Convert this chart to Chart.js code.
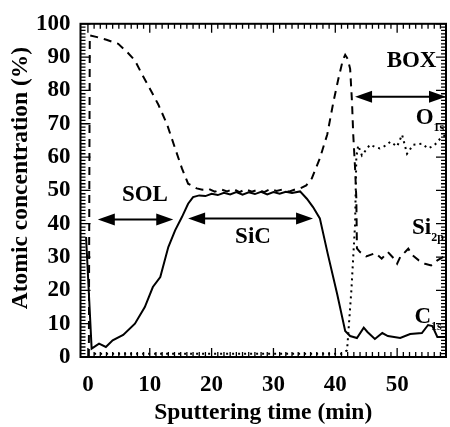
<!DOCTYPE html>
<html>
<head>
<meta charset="utf-8">
<script src="https://cdn.jsdelivr.net/npm/chart.js@4/dist/chart.umd.min.js"></script>
<style>
  body { margin: 0; background: #fff; }
  canvas { display: block; }
</style>
</head>
<body>
<canvas id="profile" width="450" height="427"></canvas>
<script>
// depth profile: sputtering time (min) vs atomic concentration (%)
var timeC = [-0.3, 0.6, 1.8, 2.9, 4, 5.7, 7.6, 9.2, 10.5, 11.7, 13, 14.1, 15.2, 16.2, 17, 18, 19, 20, 21, 22, 23, 24, 25, 26, 27, 28, 29, 30, 31, 32, 33, 34.3, 35.4, 36.4, 37.5, 38.8, 40.3, 41.6, 42.4, 43.5, 44.6, 45.2, 46.4, 47.6, 48.5, 50.5, 52.1, 54, 55, 55.7, 56.5, 57.9];
var c1s   = [36, 2.5, 4, 3, 5, 6.6, 10, 15, 21, 24, 33, 38, 42, 46, 48, 48.5, 48.3, 49, 48.6, 49.3, 48.8, 49.5, 48.7, 49.4, 48.9, 49.6, 48.8, 49.5, 49, 49.6, 49.2, 49.7, 47.5, 45, 41.6, 30.8, 18.9, 7.8, 6.3, 5.7, 8.8, 7.5, 5.4, 7.2, 6.3, 5.7, 6.9, 7.2, 9.6, 9.3, 6, 6];

var timeSi = [0.15, 0.3, 1.5, 3, 4.9, 6.3, 7.6, 8.7, 10, 11.4, 12.8, 14.1, 15.2, 16.2, 17.6, 18.5, 19.5, 20.5, 21.5, 22.5, 23.5, 24.5, 25.5, 26.5, 27.5, 28.5, 29.5, 30.5, 31.5, 32.5, 33.5, 34.3, 35.3, 36.2, 37.5, 38.7, 39.7, 40.5, 41.2, 41.6, 42, 42.4, 42.7, 42.9, 43.2, 43.4, 43.5, 44, 45, 46.5, 47.5, 48.5, 49.5, 50, 50.5, 51.8, 52.5, 53.5, 54.5, 55.5, 56.5, 57.9];
var si2p   = [0, 96.5, 96, 95.2, 94, 91.6, 89, 85, 80.6, 75.7, 69.8, 62.6, 56.6, 52, 50.6, 50.2, 50.5, 49.6, 50.3, 49.7, 50.4, 49.5, 50.3, 49.6, 50.2, 49.5, 50.4, 49.8, 50.3, 49.6, 50.3, 50.6, 51.5, 53.6, 59.6, 66.8, 76.6, 83.5, 89, 90.7, 89.5, 86.5, 76.6, 66.8, 56.6, 47.6, 32.6, 31.5, 30.2, 31.2, 29.5, 31.5, 29.5, 28, 30, 32.5, 30.5, 29, 28, 27.5, 29, 30.5];

var timeO = [1, 5, 10, 15, 20, 25, 30, 35, 41, 41.9, 42.6, 43.2, 43.4, 43.7, 44.3, 44.7, 45.6, 46.5, 47.2, 48.2, 48.9, 50, 50.8, 51.6, 52.6, 54, 55, 56, 57, 57.9];
var o1s   = [1, 1, 1, 1, 1, 1, 1, 1, 1, 2, 20, 40, 60, 63.5, 60.5, 61.5, 63.7, 63, 62.6, 63.5, 64.6, 63.2, 66.7, 61, 63.7, 64, 62.6, 63.5, 65.6, 66.7];

var xTickValues = [0, 10, 20, 30, 40, 50];
var yTickValues = [0, 10, 20, 30, 40, 50, 60, 70, 80, 90, 100];

// region arrows and labels, in data units
var spans = [
    { from: 1.6, to: 13.8, y: 41.3 },
    { from: 16.2, to: 36.4, y: 41.6 },
    { from: 43.2, to: 57.9, y: 78.1 }
];
var regionLabels = [
    { text: 'SOL', x: 5.5, y: 46.7 },
    { text: 'SiC', x: 23.8, y: 34.1 },
    { text: 'BOX', x: 48.3, y: 87.1 }
];
var lineLabels = [
    { text: 'O', sub: '1s', x: 53.0, y: 69.8 },
    { text: 'Si', sub: '2p', x: 52.4, y: 36.8 },
    { text: 'C', sub: '1s', x: 52.8, y: 10.2 }
];

var serif = '"Liberation Serif", "Times New Roman", serif';

function toPoints(xs, ys) {
    return xs.map(function(x, i) { return { x: x, y: ys[i] }; });
}

function drawArrowHead(ctx, x, y, dir) {
    ctx.beginPath();
    ctx.moveTo(x, y);
    ctx.lineTo(x - dir * 17, y - 6);
    ctx.lineTo(x - dir * 17, y + 6);
    ctx.closePath();
    ctx.fill();
}

var framePlugin = {
    id: 'frame',
    afterDraw: function(chart) {
        var ctx = chart.ctx;
        var a = chart.chartArea;
        var xs = chart.scales.x, ys = chart.scales.y;
        ctx.save();
        ctx.strokeStyle = '#000';
        ctx.fillStyle = '#000';

        // inward ticks on all four sides
        ctx.lineWidth = 1.3;
        ctx.beginPath();
        for (var t = 0; t <= 57; t++) {
            var px = xs.getPixelForValue(t);
            var len = t % 10 === 0 ? 9 : 5;
            ctx.moveTo(px, a.bottom); ctx.lineTo(px, a.bottom - len);
            ctx.moveTo(px, a.top); ctx.lineTo(px, a.top + len);
        }
        for (var v = 0; v <= 100; v++) {
            var py = ys.getPixelForValue(v);
            var l2 = v % 10 === 0 ? 10 : 5;
            ctx.moveTo(a.left, py); ctx.lineTo(a.left + l2, py);
            ctx.moveTo(a.right, py); ctx.lineTo(a.right - l2, py);
        }
        ctx.stroke();

        ctx.lineWidth = 2;
        ctx.strokeRect(a.left, a.top, a.right - a.left, a.bottom - a.top);

        // double arrows marking the layers
        spans.forEach(function(s) {
            var x1 = xs.getPixelForValue(s.from);
            var x2 = xs.getPixelForValue(s.to);
            var y = ys.getPixelForValue(s.y);
            ctx.lineWidth = 2;
            ctx.beginPath();
            ctx.moveTo(x1 + 10, y);
            ctx.lineTo(x2 - 10, y);
            ctx.stroke();
            drawArrowHead(ctx, x1, y, -1);
            drawArrowHead(ctx, x2, y, 1);
        });

        ctx.textAlign = 'left';
        ctx.textBaseline = 'alphabetic';
        ctx.font = 'bold 23px ' + serif;
        regionLabels.forEach(function(r) {
            ctx.fillText(r.text, xs.getPixelForValue(r.x), ys.getPixelForValue(r.y));
        });
        lineLabels.forEach(function(r) {
            var px = xs.getPixelForValue(r.x);
            var py = ys.getPixelForValue(r.y);
            ctx.font = 'bold 23px ' + serif;
            ctx.fillText(r.text, px, py);
            var w = ctx.measureText(r.text).width;
            ctx.font = 'bold 12px ' + serif;
            ctx.fillText(r.sub, px + w, py + 7);
        });

        // y axis title
        ctx.font = 'bold 23.5px ' + serif;
        ctx.textAlign = 'center';
        ctx.textBaseline = 'middle';
        ctx.translate(21, 178);
        ctx.rotate(-Math.PI / 2);
        ctx.fillText('Atomic concentration (%)', 0, 0);
        ctx.restore();
    }
};

var ctx = document.getElementById('profile').getContext('2d');
new Chart(ctx, {
    type: 'line',
    data: {
        datasets: [
            {
                label: 'C1s',
                data: toPoints(timeC, c1s),
                borderColor: '#000',
                borderWidth: 2,
                pointRadius: 0,
                fill: false
            },
            {
                label: 'Si2p',
                data: toPoints(timeSi, si2p),
                borderColor: '#000',
                borderWidth: 2,
                borderDash: [8, 6],
                pointRadius: 0,
                fill: false
            },
            {
                label: 'O1s',
                data: toPoints(timeO, o1s),
                borderColor: '#000',
                borderWidth: 2,
                borderDash: [2, 4],
                pointRadius: 0,
                fill: false
            }
        ]
    },
    options: {
        responsive: false,
        animation: false,
        devicePixelRatio: 1,
        layout: { padding: { top: 22, right: 4, left: 0, bottom: 0 } },
        plugins: { legend: { display: false }, tooltip: { enabled: false } },
        scales: {
            x: {
                type: 'linear',
                min: -1.2,
                max: 57.9,
                afterBuildTicks: function(scale) {
                    scale.ticks = xTickValues.map(function(v) { return { value: v }; });
                },
                afterFit: function(scale) { scale.height = 70; },
                grid: { display: false, drawTicks: false },
                border: { display: false },
                ticks: {
                    color: '#000',
                    padding: 14,
                    maxRotation: 0,
                    font: { family: serif, size: 23, weight: 'bold' }
                },
                title: {
                    display: true,
                    text: 'Sputtering time (min)',
                    color: '#000',
                    padding: { top: 0, bottom: 0 },
                    font: { family: serif, size: 23.5, weight: 'bold' }
                }
            },
            y: {
                min: 0,
                max: 100,
                afterBuildTicks: function(scale) {
                    scale.ticks = yTickValues.map(function(v) { return { value: v }; });
                },
                afterFit: function(scale) { scale.width = 80.5; },
                grid: { display: false, drawTicks: false },
                border: { display: false },
                ticks: {
                    color: '#000',
                    padding: 10,
                    font: { family: serif, size: 23, weight: 'bold' }
                }
            }
        }
    },
    plugins: [framePlugin]
});
</script>
</body>
</html>
